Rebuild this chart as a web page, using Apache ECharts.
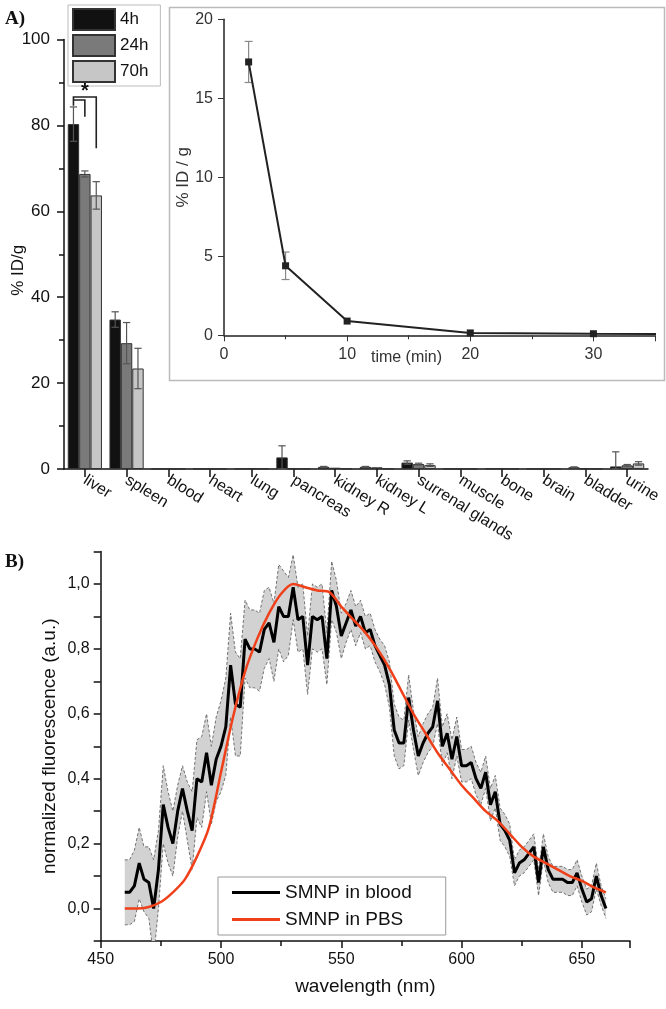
<!DOCTYPE html>
<html><head><meta charset="utf-8">
<script src="https://cdn.jsdelivr.net/npm/echarts@6/dist/echarts.min.js"></script>
<style>html,body{margin:0;padding:0;background:#fff}#c{width:666px;height:1009px}</style>
</head><body><div id="c"></div>
<script>
// ---- Panel A: biodistribution (%ID/g) ----
const organs = ['liver','spleen','blood','heart','lung','pancreas','kidney R','kidney L','surrenal glands','muscle','bone','brain','bladder','urine'];
const h4  = [80.3, 34.8, 0.05, 0.05, 0.1, 2.7, 0.5, 0.5, 1.5, 0.05, 0.1, 0.05, 0.4, 0.6];
const h24 = [68.7, 29.3, 0.03, 0.03, 0.1, 0.1, 0.3, 0.4, 1.15, 0.03, 0.15, 0.03, 0.1, 0.85];
const h70 = [63.7, 23.4, 0.03, 0.03, 0.1, 0.1, 0.1, 0.1, 0.9, 0.03, 0.05, 0.03, 0.05, 1.3];
const err4  = [4.0, 1.8, 0, 0, 0, 2.7, 0.1, 0.1, 0.4, 0, 0, 0, 0.1, 3.4];
const err24 = [0.7, 4.8, 0, 0, 0, 0, 0, 0, 0.2, 0, 0, 0, 0, 0.2];
const err70 = [3.2, 4.7, 0, 0, 0, 0, 0, 0, 0.3, 0, 0, 0, 0, 0.4];
const seriesNames = ['4h','24h','70h'];
const yTicksA = [0, 20, 40, 60, 80, 100];
// significance bracket (data units): outer bracket start, top, 70h end
const sigOuter = [84.6, 86.6, 74.7];
const sigInner = [85.9, 82.0];         // inner bracket top, 24h end
const sigStar = 88.0;

// ---- Inset: blood clearance ----
const timeMin = [2, 5, 10, 20, 30, 45];
const bloodID = [17.3, 4.4, 0.9, 0.15, 0.1, 0.05];
const bloodErr = [1.3, 0.87, 0, 0, 0, 0];

// ---- Panel B: fluorescence spectra ----
const wl = [460,462,464,466,468,470,472,474,476,478,480,482,484,486,488,490,492,494,496,498,
500,502,504,506,508,510,512,514,516,518,520,522,524,526,528,530,532,534,536,538,
540,542,544,546,548,550,552,554,556,558,560,562,564,566,568,570,572,574,576,578,
580,582,584,586,588,590,592,594,596,598,600,602,604,606,608,610,612,614,616,618,
620,622,624,626,628,630,632,634,636,638,640,642,644,646,648,650,652,654,656,658,660];
const smnpBlood = [0.05,0.05,0.07,0.14,0.09,0.08,0.00,0.12,0.32,0.25,0.20,0.30,0.37,0.30,0.24,0.40,0.39,0.48,0.38,0.46,
0.50,0.56,0.75,0.63,0.62,0.83,0.80,0.80,0.79,0.86,0.88,0.82,0.93,0.90,0.90,0.99,0.89,0.90,0.75,0.90,
0.89,0.90,0.77,0.98,0.93,0.84,0.88,0.92,0.87,0.90,0.85,0.86,0.81,0.78,0.75,0.69,0.55,0.51,0.51,0.65,
0.55,0.47,0.51,0.54,0.56,0.64,0.50,0.54,0.46,0.53,0.44,0.44,0.45,0.40,0.37,0.42,0.32,0.36,0.26,0.24,
0.21,0.11,0.14,0.15,0.17,0.19,0.08,0.19,0.12,0.09,0.09,0.09,0.08,0.08,0.11,0.06,0.02,0.03,0.10,0.04,0.00];
const smnpBloodSd = [0.10,0.10,0.11,0.11,0.10,0.11,0.15,0.12,0.12,0.11,0.10,0.08,0.07,0.09,0.12,0.12,0.14,0.12,0.12,0.13,
0.14,0.15,0.16,0.16,0.15,0.12,0.12,0.12,0.12,0.12,0.11,0.12,0.13,0.14,0.12,0.10,0.10,0.10,0.09,0.10,
0.10,0.10,0.08,0.09,0.08,0.07,0.06,0.06,0.06,0.05,0.05,0.05,0.05,0.05,0.06,0.07,0.08,0.08,0.07,0.07,
0.06,0.06,0.06,0.06,0.06,0.07,0.06,0.06,0.06,0.06,0.05,0.05,0.05,0.05,0.05,0.05,0.05,0.05,0.05,0.05,
0.05,0.04,0.04,0.04,0.04,0.04,0.04,0.04,0.04,0.04,0.04,0.04,0.04,0.04,0.04,0.04,0.04,0.04,0.04,0.03,0.03];
const wlPBS = [460,465,470,475,480,485,490,495,500,505,510,515,520,525,530,535,540,545,550,555,
560,565,570,575,580,585,590,595,600,605,610,615,620,625,630,635,640,645,650,655,660];
const smnpPBS = [0.0,0.0,0.005,0.02,0.05,0.09,0.16,0.25,0.42,0.59,0.73,0.83,0.91,0.97,1.0,0.99,0.98,0.975,0.93,0.89,
0.85,0.80,0.74,0.67,0.60,0.54,0.48,0.43,0.38,0.34,0.30,0.27,0.23,0.19,0.16,0.14,0.12,0.10,0.085,0.065,0.05];

const FONT = 'Liberation Sans';
const barColors = ['#111111', '#7a7a7a', '#c6c6c6'];
const GAP = 0.18;

const upper = smnpBlood.map((v,i)=>[wl[i], +(v + smnpBloodSd[i]).toFixed(3)]);
const lower = smnpBlood.map((v,i)=>[wl[i], +(v - smnpBloodSd[i]).toFixed(3)]);

const errData = [];
[[h4,err4],[h24,err24],[h70,err70]].forEach((p,s)=>{
  p[0].forEach((v,i)=>{ if (p[1][i] > 0) errData.push([i, s, v, p[1][i]]); });
});

const chart = echarts.init(document.getElementById('c'), null, {renderer:'canvas'});
const axisCommon = {
  axisLine:{show:true, lineStyle:{color:'#111', width:1.5}},
  axisTick:{show:true, inside:false, length:7, lineStyle:{color:'#111', width:1.5}},
  splitLine:{show:false},
  nameMoveOverlap:false,
  axisLabel:{color:'#111', fontFamily:FONT, fontSize:17}
};

const option = {
  animation:false,
  backgroundColor:'#fff',
  textStyle:{fontFamily:FONT},
  grid:[
    {left:64, right:18, top:39.5, bottom:540, outerBoundsMode:'none', containLabel:false},
    {left:224, right:11, top:19.3, bottom:673.7, outerBoundsMode:'none', containLabel:false},
    {left:100.7, right:36, top:551.5, bottom:68, outerBoundsMode:'none', containLabel:false}
  ],
  legend:[
    {data:seriesNames.map(n=>({name:n, icon:'rect'})), orient:'vertical', left:68, top:5, itemWidth:42, itemHeight:21, itemGap:3,
     padding:[3,12,3,4], borderColor:'#bbb', borderWidth:1, backgroundColor:'#fff',
     textStyle:{fontSize:17, color:'#111', fontFamily:FONT}},
    {data:[{name:'SMNP in blood', icon:'rect'},{name:'SMNP in PBS', icon:'rect'}], orient:'vertical', left:218, top:877,
     itemWidth:48, itemHeight:3, itemGap:8, padding:[6,34,6,14], borderColor:'#999', borderWidth:1,
     textStyle:{fontSize:19, color:'#111', fontFamily:FONT}}
  ],
  xAxis:[
    Object.assign({}, axisCommon, {gridIndex:0, type:'category', data:organs,
      axisTick:{show:true, alignWithLabel:true, inside:false, length:8, lineStyle:{color:'#111', width:1.5}},
      axisLabel:{interval:0, rotate:-32, margin:10, color:'#111', fontFamily:FONT, fontSize:16}}),
    Object.assign({}, axisCommon, {gridIndex:1, type:'value', min:0, max:35, interval:10,
      axisLine:{show:true, onZero:false, lineStyle:{color:'#222', width:1.5}},
      axisTick:{show:true, length:6, lineStyle:{color:'#333'}},
      minorTick:{show:true, splitNumber:2, length:4, lineStyle:{color:'#333'}},
      axisLabel:{showMaxLabel:false, margin:11, color:'#333', fontFamily:FONT, fontSize:16},
      name:'time (min)', nameLocation:'middle', nameGap:14,
      nameTextStyle:{color:'#333', fontFamily:FONT, fontSize:16, padding:[0,66,0,0]}}),
    Object.assign({}, axisCommon, {gridIndex:2, type:'value', min:450, max:670, interval:50,
      axisLine:{show:true, onZero:false, lineStyle:{color:'#111', width:1.5}},
      minorTick:{show:true, splitNumber:2, length:5, lineStyle:{color:'#111', width:1.5}},
      axisLabel:{showMaxLabel:false, margin:11, color:'#111', fontFamily:FONT, fontSize:16},
      name:'wavelength (nm)', nameLocation:'middle', nameGap:36,
      nameTextStyle:{color:'#111', fontFamily:FONT, fontSize:19}})
  ],
  yAxis:[
    Object.assign({}, axisCommon, {gridIndex:0, type:'value', min:0, max:100, interval:20,
      minorTick:{show:true, splitNumber:2, length:5, lineStyle:{color:'#111', width:1.5}},
      axisLabel:{margin:14, color:'#111', fontFamily:FONT, fontSize:17,
        formatter:v=> yTicksA.includes(v) ? String(v) : ''},
      name:'% ID/g', nameLocation:'middle', nameGap:37, nameRotate:90,
      nameTextStyle:{color:'#111', fontFamily:FONT, fontSize:17, padding:[0,32,0,0]}}),
    Object.assign({}, axisCommon, {gridIndex:1, type:'value', min:0, max:20, interval:5,
      axisLine:{show:true, lineStyle:{color:'#222', width:1.5}},
      axisTick:{show:true, length:6, lineStyle:{color:'#333'}},
      axisLabel:{margin:11, color:'#333', fontFamily:FONT, fontSize:16},
      name:'% ID / g', nameLocation:'middle', nameGap:32, nameRotate:90,
      nameTextStyle:{color:'#333', fontFamily:FONT, fontSize:17}}),
    Object.assign({}, axisCommon, {gridIndex:2, type:'value', min:-0.1, max:1.1, interval:0.1,
      axisLabel:{margin:11, color:'#111', fontFamily:FONT, fontSize:16,
        formatter:v=>{const k=Math.round(v*10); return (k>=0 && k<=10 && k%2===0) ? (k/10).toFixed(1).replace('.',',') : '';}},
      name:'normalized fluorescence (a.u.)', nameLocation:'middle', nameGap:41, nameRotate:90,
      nameTextStyle:{color:'#111', fontFamily:FONT, fontSize:19}})
  ],
  series:[
    {name:'4h', type:'bar', xAxisIndex:0, yAxisIndex:0, data:h4, barGap:'0%', barCategoryGap:(GAP*100)+'%',
     itemStyle:{color:barColors[0], borderColor:'#333', borderWidth:1}},
    {name:'24h', type:'bar', xAxisIndex:0, yAxisIndex:0, data:h24, barGap:'0%', barCategoryGap:(GAP*100)+'%',
     itemStyle:{color:barColors[1], borderColor:'#333', borderWidth:1}},
    {name:'70h', type:'bar', xAxisIndex:0, yAxisIndex:0, data:h70, barGap:'0%', barCategoryGap:(GAP*100)+'%',
     itemStyle:{color:barColors[2], borderColor:'#333', borderWidth:1}},
    {name:'errA', type:'custom', xAxisIndex:0, yAxisIndex:0, data:errData, encode:{x:0, y:2}, z:5, silent:true,
     renderItem:(params, api)=>{
       const i=api.value(0), s=api.value(1), v=api.value(2), e=api.value(3);
       const band = api.size([1,0])[0];
       const bw = band*(1-GAP)/3;
       const off = (s-1)*bw;
       const pT = api.coord([i, v+e]); const pB = api.coord([i, Math.max(v-e,0)]);
       const x = pT[0]+off, c = bw*0.32;
       const st = {stroke:'#555', lineWidth:1.2};
       return {type:'group', children:[
         {type:'line', shape:{x1:x, y1:pT[1], x2:x, y2:pB[1]}, style:st},
         {type:'line', shape:{x1:x-c, y1:pT[1], x2:x+c, y2:pT[1]}, style:st},
         {type:'line', shape:{x1:x-c, y1:pB[1], x2:x+c, y2:pB[1]}, style:st}
       ]};
     }},
    {name:'inset', type:'line', xAxisIndex:1, yAxisIndex:1, data:timeMin.map((t,i)=>[t, bloodID[i]]),
     symbol:'rect', symbolSize:7, showAllSymbol:true, clip:true,
     lineStyle:{color:'#222', width:2}, itemStyle:{color:'#222'}, z:4},
    {name:'insetErr', type:'custom', xAxisIndex:1, yAxisIndex:1, silent:true, z:3,
     data:timeMin.map((t,i)=>[t, bloodID[i], bloodErr[i]]).filter(d=>d[2]>0), encode:{x:0, y:1},
     renderItem:(params, api)=>{
       const t=api.value(0), v=api.value(1), e=api.value(2);
       const pT = api.coord([t, v+e]), pB = api.coord([t, v-e]);
       const st = {stroke:'#888', lineWidth:1.2}, c=4;
       return {type:'group', children:[
         {type:'line', shape:{x1:pT[0], y1:pT[1], x2:pB[0], y2:pB[1]}, style:st},
         {type:'line', shape:{x1:pT[0]-c, y1:pT[1], x2:pT[0]+c, y2:pT[1]}, style:st},
         {type:'line', shape:{x1:pB[0]-c, y1:pB[1], x2:pB[0]+c, y2:pB[1]}, style:st}
       ]};
     }},
    {name:'band', type:'custom', xAxisIndex:2, yAxisIndex:2, silent:true, z:1,
     data:wl.map((w,i)=>[w, lower[i][1], upper[i][1]]), encode:{x:0, y:[1,2]},
     renderItem:(params, api)=>{
       if (params.dataIndex !== 0) return null;
       const pts = upper.map(p=>api.coord(p)).concat(lower.slice().reverse().map(p=>api.coord(p)));
       const cs = params.coordSys;
       return {type:'polygon', shape:{points:pts}, style:{fill:'#d2d2d2'},
               clipPath:{type:'rect', shape:{x:cs.x, y:cs.y, width:cs.width, height:cs.height}}};
     }},
    {name:'upper', type:'line', xAxisIndex:2, yAxisIndex:2, data:upper, showSymbol:false, silent:true, z:2,
     lineStyle:{color:'#555', width:0.8, type:[3,2]}},
    {name:'lower', type:'line', xAxisIndex:2, yAxisIndex:2, data:lower, showSymbol:false, silent:true, z:2,
     lineStyle:{color:'#555', width:0.8, type:[3,2]}},
    {name:'SMNP in blood', type:'line', xAxisIndex:2, yAxisIndex:2, data:wl.map((w,i)=>[w, smnpBlood[i]]),
     showSymbol:false, z:3, lineStyle:{color:'#000', width:3}, itemStyle:{color:'#000'}},
    {name:'SMNP in PBS', type:'line', xAxisIndex:2, yAxisIndex:2, data:wlPBS.map((w,i)=>[w, smnpPBS[i]]),
     showSymbol:false, smooth:0.3, z:4, lineStyle:{color:'#f0401a', width:2.5}, itemStyle:{color:'#f0401a'}}
  ]
};
chart.setOption(option);

// significance bracket, positioned through the bar axis scales
const pc = (cat, v)=>chart.convertToPixel({xAxisIndex:0, yAxisIndex:0}, [cat, v]);
const c0 = pc(organs[0], 0), c1 = pc(organs[1], 0);
const bw = (c1[0]-c0[0])*(1-GAP)/3;
const x4 = c0[0]-bw, x24 = c0[0], x70 = c0[0]+bw;
const yy = v=>pc(organs[0], v)[1];
const bst = {stroke:'#222', lineWidth:1.6, fill:'none'};
chart.setOption({graphic:[
  {type:'text', left:5, top:10, style:{text:'A)', font:'bold 19px "Liberation Serif"', fill:'#111'}},
  {type:'text', left:5, top:553, style:{text:'B)', font:'bold 19px "Liberation Serif"', fill:'#111'}},
  {type:'rect', left:167, top:5, shape:{width:495, height:373}, style:{fill:'none', stroke:'#bbb', lineWidth:1.5}, z:-1},
  {type:'polyline', shape:{points:[[x4, yy(sigOuter[0])],[x4, yy(sigOuter[1])],[x70, yy(sigOuter[1])],[x70, yy(sigOuter[2])]]}, style:bst, z:10},
  {type:'polyline', shape:{points:[[x4, yy(sigInner[0])],[x24, yy(sigInner[0])],[x24, yy(sigInner[1])]]}, style:bst, z:10},
  {type:'text', x:x24, y:yy(sigStar), style:{text:'*', font:'bold 20px "Liberation Sans"', fill:'#111', align:'center', verticalAlign:'middle'}, z:10}
]});
</script>
</body></html>
